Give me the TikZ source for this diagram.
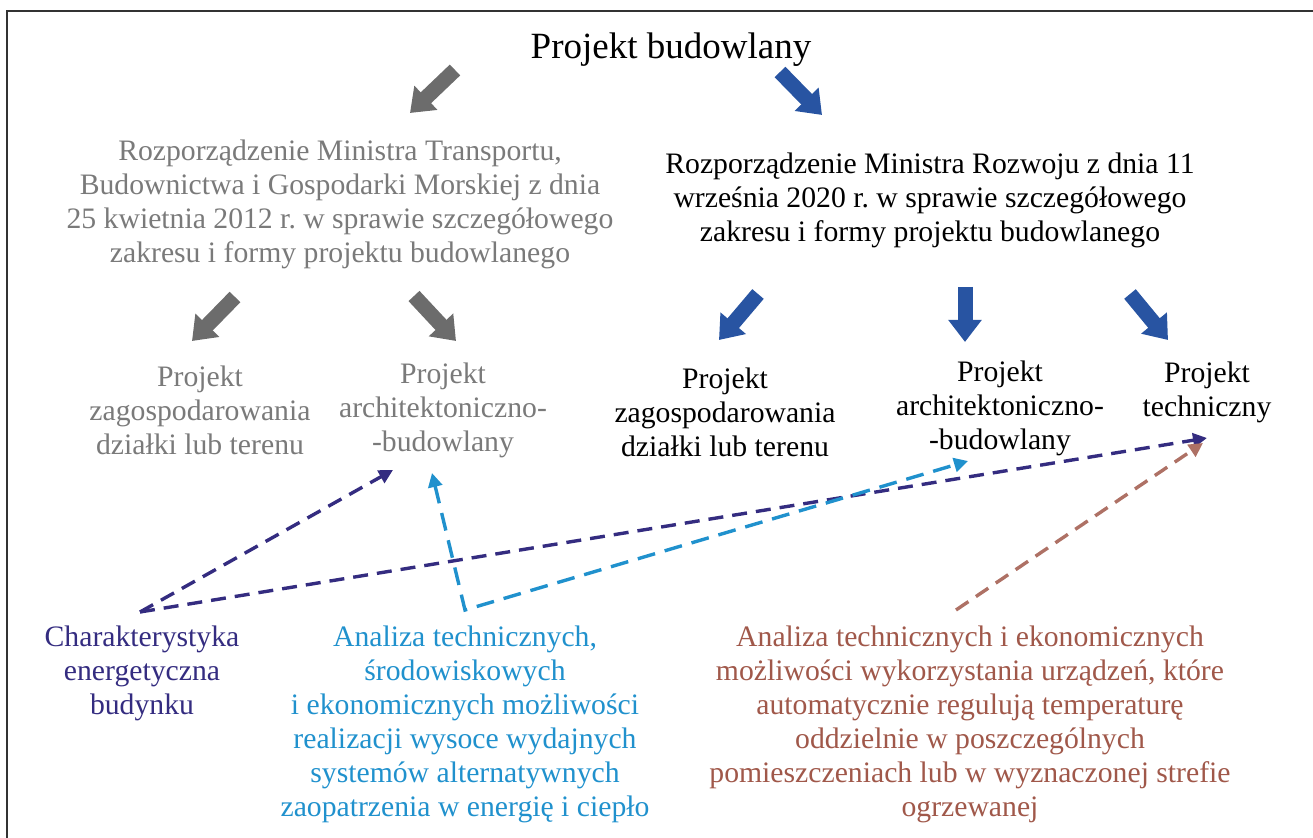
\documentclass[tikz,border=0pt]{standalone}
\usepackage{fontspec}
\setmainfont{Liberation Serif}
\usepackage{tikz}
\usetikzlibrary{arrows.meta, calc}
\definecolor{txtgray}{RGB}{122,122,122}
\definecolor{arrgray}{RGB}{108,108,108}
\definecolor{arrblue}{RGB}{40,84,162}
\definecolor{indigo}{RGB}{52,44,128}
\definecolor{skyblue}{RGB}{32,145,205}
\definecolor{rust}{RGB}{160,88,74}
\tikzset{
    label/.style={align=center, inner sep=0pt, font=\fontsize{14.85}{17}\selectfont},
    fatgray/.style={line width=7.5pt, arrgray, -{Triangle[length=11pt, width=16pt]}},
    fatblue/.style={line width=7.5pt, arrblue, -{Triangle[length=11pt, width=16pt]}},
    dasharrow/.style={line width=1.7pt, dash pattern=on 7.5pt off 4.5pt, -{Triangle[length=7pt, width=7pt]}},
}
\frenchspacing

\begin{document}
\begin{tikzpicture}[x=0.5pt, y=-0.5pt]
    \useasboundingbox (0,0) rectangle (1313,838);
    \draw[line width=1.2pt, black!80] (7,838) -- (7,11) -- (1313,11);

    \node[font=\fontsize{18.5}{22}\selectfont, inner sep=0pt] (title) at (671,50) {Projekt budowlany};
    \node[label, txtgray] (oldreg) at (340,204) {Rozporządzenie Ministra Transportu,\\Budownictwa i Gospodarki Morskiej z dnia\\25 kwietnia 2012 r. w sprawie szczegółowego\\zakresu i formy projektu budowlanego};
    \node[label] (newreg) at (930,200) {Rozporządzenie Ministra Rozwoju z dnia 11\\września 2020 r. w sprawie szczegółowego\\zakresu i formy projektu budowlanego};

    \node[label, txtgray] (oldzag) at (200,410) {Projekt\\zagospodarowania\\działki lub terenu};
    \node[label, txtgray] (oldarch) at (443,410) {Projekt\\architektoniczno-\\-budowlany};
    \node[label] (newzag) at (725,412) {Projekt\\zagospodarowania\\działki lub terenu};
    \node[label] (newarch) at (1000,408) {Projekt\\architektoniczno-\\-budowlany};
    \node[label] (newtech) at (1207,392) {Projekt\\techniczny};

    \node[label, indigo] (energy) at (142,673) {Charakterystyka\\energetyczna\\budynku};
    \node[label, skyblue] (altsys) at (465,724) {Analiza technicznych,\\środowiskowych\\i ekonomicznych możliwości\\realizacji wysoce wydajnych\\systemów alternatywnych\\zaopatrzenia w energię i ciepło};
    \node[label, rust] (heating) at (970,724) {Analiza technicznych i ekonomicznych\\możliwości wykorzystania urządzeń, które\\automatycznie regulują temperaturę\\oddzielnie w poszczególnych\\pomieszczeniach lub w wyznaczonej strefie\\ogrzewanej};

    % block arrows
    \coordinate (t1) at (455,70);   \coordinate (h1) at (410,113);
    \coordinate (t2) at (780,72);   \coordinate (h2) at (822,115);
    \coordinate (t3) at (235,297);  \coordinate (h3) at (192,341);
    \coordinate (t4) at (414,296);  \coordinate (h4) at (456,341);
    \coordinate (t5) at (758,294);  \coordinate (h5) at (719,340);
    \coordinate (t6) at (965,287);  \coordinate (h6) at (965,342);
    \coordinate (t7) at (1130,294); \coordinate (h7) at (1168,340);
    \draw[fatgray] (t1) -- (h1);
    \draw[fatblue] (t2) -- (h2);
    \draw[fatgray] (t3) -- (h3);
    \draw[fatgray] (t4) -- (h4);
    \draw[fatblue] (t5) -- (h5);
    \draw[fatblue] (t6) -- (h6);
    \draw[fatblue] (t7) -- (h7);

    % dashed links
    \coordinate (energytop) at (140,612);
    \coordinate (oldarchlow) at (393,470);
    \coordinate (oldarchmid) at (432,473);
    \coordinate (altcorner) at (465,610);
    \coordinate (newarchlow) at (968,461);
    \coordinate (techlow) at (1207,438);
    \coordinate (techlow2) at (1203,443);
    \coordinate (heattop) at (956,610);
    \draw[dasharrow, indigo] (energytop) -- (oldarchlow);
    \draw[dasharrow, indigo] (energytop) -- (techlow);
    \draw[dasharrow, skyblue, dash pattern=on 9pt off 5pt, {Triangle[length=7pt, width=7pt]}-{Triangle[length=7pt, width=7pt]}] (oldarchmid) -- (altcorner) -- (newarchlow);
    \draw[dasharrow, rust!85] (heattop) -- (techlow2);
\end{tikzpicture}
\end{document}
